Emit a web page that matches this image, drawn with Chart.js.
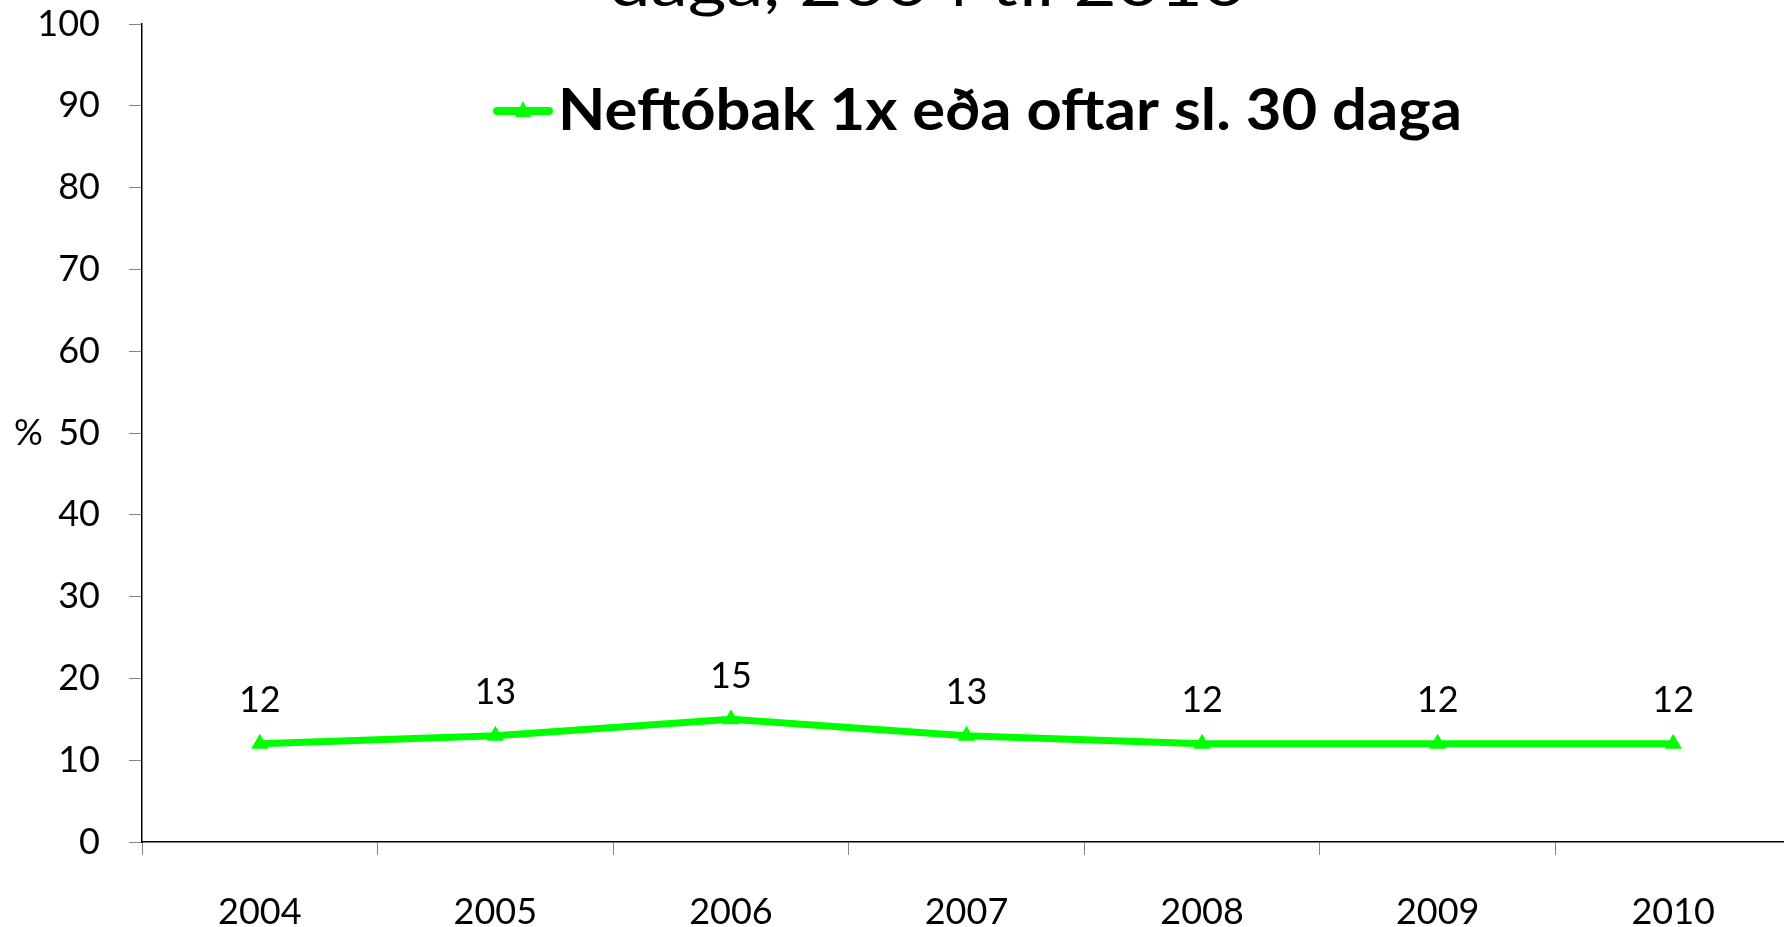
<!DOCTYPE html>
<html>
<head>
<meta charset="utf-8">
<script src="https://cdn.jsdelivr.net/npm/chart.js@4"></script>
<style>
  html, body { margin: 0; padding: 0; background: #fff; overflow: hidden; }
  #c { display: block; }
</style>
</head>
<body>
<canvas id="c" width="1791" height="927"></canvas>
<script>
var years = ['2004', '2005', '2006', '2007', '2008', '2009', '2010'];
var snuff = [12, 13, 15, 13, 12, 12, 12];
var seriesLabel = 'Neftóbak 1x eða oftar sl. 30 daga';
var titleTail = 'daga, 2004 til 2010';
var yTicks = [0, 10, 20, 30, 40, 50, 60, 70, 80, 90, 100];

var GREEN = '#00ff00';
var FONT = 'Lato, "Open Sans", sans-serif';

// text squeezed to a width, calibri is narrower than anything installed
function fitText(ctx, text, x, y, width, align) {
    var w = ctx.measureText(text).width;
    var sx = width / w;
    ctx.save();
    ctx.translate(x, y);
    ctx.scale(sx, 1);
    ctx.textAlign = align || 'left';
    ctx.fillText(text, 0, 0);
    ctx.restore();
}

var extras = {
    id: 'extras',
    afterDatasetsDraw: function(chart) {
        var ctx = chart.ctx;
        var meta = chart.getDatasetMeta(0);
        ctx.save();
        ctx.fillStyle = '#000';

        // value labels over the points
        ctx.font = '36px ' + FONT;
        ctx.textAlign = 'center';
        ctx.textBaseline = 'middle';
        meta.data.forEach(function(pt, i) {
            ctx.fillText(String(snuff[i]), pt.x, pt.y - 43);
        });

        // "%" beside the y axis
        ctx.textAlign = 'left';
        ctx.fillText('%', 14, chart.scales.y.getPixelForValue(50));

        // title, mostly cut off at the top
        ctx.font = '60px ' + FONT;
        ctx.textBaseline = 'alphabetic';
        fitText(ctx, titleTail, 609, 6, 637, 'left');

        // legend inside the plot
        ctx.strokeStyle = GREEN;
        ctx.lineWidth = 8;
        ctx.lineCap = 'round';
        ctx.beginPath();
        ctx.moveTo(497, 111);
        ctx.lineTo(549, 111);
        ctx.stroke();
        ctx.fillStyle = GREEN;
        ctx.beginPath();
        ctx.moveTo(523, 101);
        ctx.lineTo(531, 117);
        ctx.lineTo(515, 117);
        ctx.closePath();
        ctx.fill();

        ctx.fillStyle = '#000';
        ctx.font = 'bold 58px ' + FONT;
        fitText(ctx, seriesLabel, 558, 130, 904, 'left');
        ctx.restore();
    }
};

new Chart(document.getElementById('c'), {
    type: 'line',
    data: {
        labels: years,
        datasets: [{
            label: seriesLabel,
            data: snuff,
            borderColor: GREEN,
            backgroundColor: GREEN,
            borderWidth: 7,
            pointStyle: 'triangle',
            pointRadius: 10,
            pointBorderWidth: 0,
            pointBorderColor: GREEN,
            tension: 0
        }]
    },
    options: {
        responsive: false,
        animation: false,
        layout: {
            autoPadding: false,
            padding: { top: 24, left: 0, right: 0, bottom: 0 }
        },
        plugins: {
            legend: { display: false },
            title: { display: false },
            tooltip: { enabled: false }
        },
        scales: {
            x: {
                offset: true,
                grid: {
                    offset: true,
                    drawOnChartArea: false,
                    drawTicks: true,
                    tickLength: 13,
                    tickColor: '#868686'
                },
                border: { color: '#000', width: 1.5 },
                ticks: {
                    color: '#000',
                    font: { family: FONT, size: 36 },
                    padding: 36,
                    maxRotation: 0
                },
                afterFit: function(s) {
                    s.height = 85;
                    s.paddingLeft = 0;
                    s.paddingRight = 0;
                }
            },
            y: {
                min: 0,
                max: 100,
                afterBuildTicks: function(s) {
                    s.ticks = yTicks.map(function(v) { return { value: v }; });
                },
                grid: {
                    drawOnChartArea: false,
                    drawTicks: true,
                    tickLength: 13,
                    tickColor: '#868686'
                },
                border: { color: '#000', width: 1.5 },
                ticks: {
                    color: '#000',
                    font: { family: FONT, size: 36 },
                    padding: 29
                },
                afterFit: function(s) {
                    s.width = 142;
                    // let the 100 label hang above the plot like the original
                    s.paddingTop = 0;
                    s.paddingBottom = 0;
                }
            }
        }
    },
    plugins: [extras]
});
</script>
</body>
</html>
